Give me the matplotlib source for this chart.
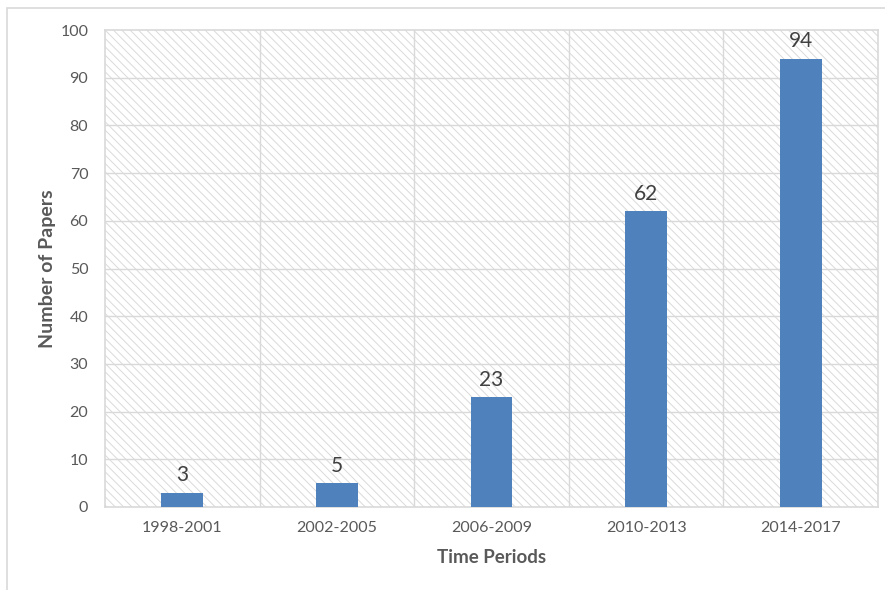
import matplotlib
matplotlib.use("Agg")
import matplotlib.pyplot as plt
from matplotlib.patches import Rectangle

# Papers published per four-year period
periods = ["1998-2001", "2002-2005", "2006-2009", "2010-2013", "2014-2017"]
papers = [3, 5, 23, 62, 94]

bar_color = "#4F81BD"
grid_color = "#D9D9D9"
text_color = "#595959"
hatch_color = "#DADADA"

plt.rcParams["font.family"] = ["Lato", "DejaVu Sans"]
plt.rcParams["hatch.color"] = hatch_color
plt.rcParams["hatch.linewidth"] = 0.7

fig = plt.figure(figsize=(8.85, 5.9), dpi=100)

# light outer chart border
fig.patches.append(Rectangle((7 / 885, -0.05), 1.0, 1 - 8 / 590 + 0.05,
                             transform=fig.transFigure, fill=False,
                             edgecolor=grid_color, linewidth=1.2))

ax = fig.add_axes([105 / 885, 1 - 507 / 590, (878 - 105) / 885, (507 - 30) / 590])

x = list(range(len(periods)))
ax.set_xlim(-0.5, len(periods) - 0.5)
ax.set_ylim(0, 100)

# diagonal hatched plot area
ax.add_patch(Rectangle((0, 0), 1, 1, transform=ax.transAxes, facecolor="none",
                       edgecolor=hatch_color, hatch="\\\\\\\\", linewidth=0, zorder=0))

# gridlines: horizontal at ticks, vertical at category boundaries
for y in range(10, 100, 10):
    ax.axhline(y, color=grid_color, linewidth=1.0, zorder=1)
for b in range(1, len(periods)):
    ax.axvline(b - 0.5, color=grid_color, linewidth=1.0, zorder=1)

bars = ax.bar(x, papers, width=0.27, color=bar_color, zorder=3)
for xi, v in zip(x, papers):
    ax.text(xi, v + 1.6, str(v), ha="center", va="bottom",
            fontsize=15, color="#404040", zorder=4)

ax.set_xticks(x)
ax.set_xticklabels(periods)
ax.set_yticks(range(0, 101, 10))
ax.tick_params(axis="both", length=0, labelsize=11.5, labelcolor=text_color)
ax.tick_params(axis="x", pad=10)
ax.tick_params(axis="y", pad=12)

for s in ax.spines.values():
    s.set_color(grid_color)
    s.set_linewidth(1.2)

ax.set_xlabel("Time Periods", fontsize=13.5, fontweight="bold", color=text_color, labelpad=10)
ax.set_ylabel("Number of Papers", fontsize=14, fontweight="bold", color=text_color, labelpad=3)

fig.savefig("out.png", dpi=100)
